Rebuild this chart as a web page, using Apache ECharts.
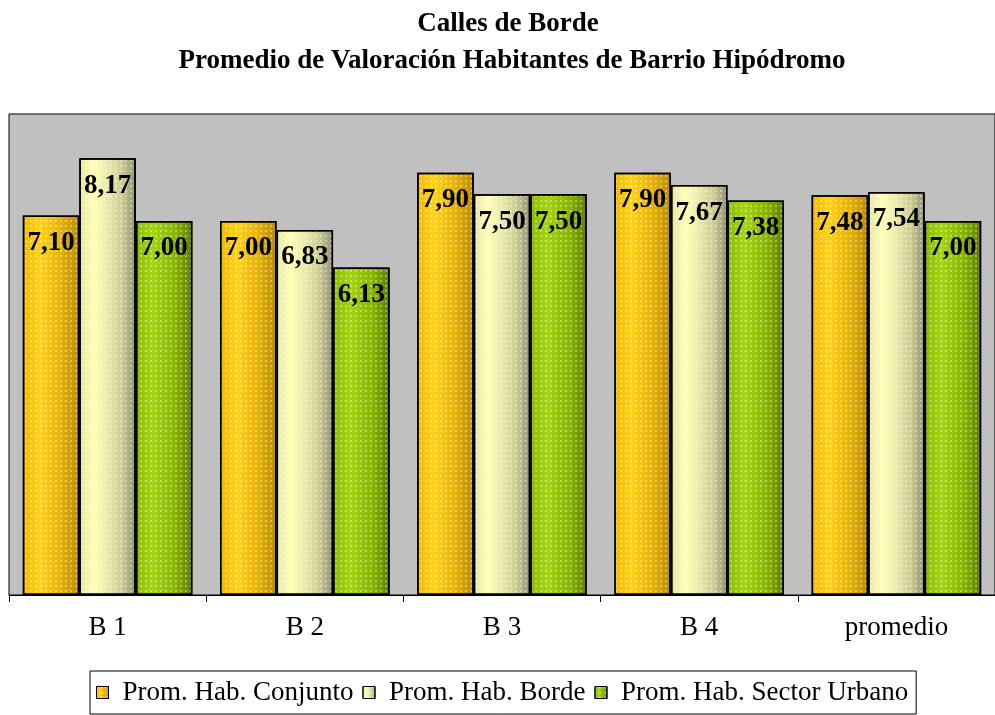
<!DOCTYPE html>
<html>
<head>
<meta charset="utf-8">
<script src="https://cdn.jsdelivr.net/npm/echarts@6/dist/echarts.min.js"></script>
<style>
  html, body { margin: 0; padding: 0; background: #ffffff; }
  #chart { width: 995px; height: 715px; }
</style>
</head>
<body>
<div id="chart"></div>
<script>
// Category labels along the x axis
var categories = ['B 1', 'B 2', 'B 3', 'B 4', 'promedio'];

// Average ratings per group
var conjunto = [7.10, 7.00, 7.90, 7.90, 7.48];
var borde = [8.17, 6.83, 7.50, 7.67, 7.54];
var sectorUrbano = [7.00, 6.13, 7.50, 7.38, 7.00];

var seriesNames = ['Prom. Hab. Conjunto', 'Prom. Hab. Borde', 'Prom. Hab. Sector Urbano'];

var titleLines = ['Calles de Borde', 'Promedio de Valoración Habitantes de Barrio Hipódromo'];

var serif = "'Liberation Serif', 'Times New Roman', serif";

// Cylinder-like horizontal shading for each bar colour
function shade(stops) {
  return new echarts.graphic.LinearGradient(0, 0, 1, 0,
    stops.map(function (s) { return { offset: s[0], color: s[1] }; }));
}

var fills = [
  shade([[0, '#f2b800'], [0.3, '#ffd21a'], [0.65, '#e8b408'], [1, '#b88c00']]),
  shade([[0, '#e4e4ac'], [0.25, '#ffffb4'], [0.5, '#eaeaac'], [0.75, '#cdcd94'], [1, '#909074']]),
  shade([[0, '#8cbc00'], [0.3, '#a4d414'], [0.7, '#88b400'], [1, '#5e7e00']])
];

// Fine dotted texture laid over the bars
var dots = {
  symbol: 'rect',
  symbolSize: 1,
  dashArrayX: [2, 3],
  dashArrayY: [2, 3],
  color: 'rgba(255,255,255,0.36)'
};

function fmt(p) { return p.value.toFixed(2).replace('.', ','); }

function barSeries(name, data, idx) {
  return {
    name: name,
    type: 'bar',
    data: data,
    barGap: '0%',
    barCategoryGap: '14%',
    itemStyle: {
      color: fills[idx],
      borderColor: '#000000',
      borderWidth: 1.5,
      decal: dots
    },
    label: {
      show: true,
      position: 'insideTop',
      distance: 14,
      formatter: fmt,
      fontFamily: serif,
      fontWeight: 'bold',
      fontSize: 27,
      color: '#000000'
    }
  };
}

// Each title line is centred on its own x position
function titleLine(text, centerX, top) {
  return {
    text: text,
    left: centerX,
    top: top,
    textAlign: 'center',
    textStyle: {
      fontFamily: serif,
      fontWeight: 'bold',
      fontSize: 27,
      lineHeight: 30,
      color: '#000000'
    }
  };
}

var chart = echarts.init(document.getElementById('chart'), null, { renderer: 'canvas' });

chart.setOption({
  backgroundColor: '#ffffff',
  animation: false,
  title: [
    titleLine(titleLines[0], 503, 4),
    titleLine(titleLines[1], 507, 41)
  ],
  legend: {
    left: 90,
    top: 671,
    orient: 'horizontal',
    backgroundColor: '#ffffff',
    borderColor: '#000000',
    borderWidth: 1,
    padding: [8, 8, 8, 6],
    itemWidth: 24,
    itemHeight: 12,
    itemGap: 9,
    icon: 'path://M0,0h10v10h-10z',
    itemStyle: { borderColor: '#000000', borderWidth: 1 },
    textStyle: { fontFamily: serif, fontSize: 27, color: '#000000', padding: [0, 0, 0, 3] },
    data: seriesNames
  },
  grid: {
    left: 9,
    top: 114,
    width: 989,
    height: 481,
    show: true,
    backgroundColor: '#c0c0c0',
    borderColor: '#000000',
    borderWidth: 1
  },
  xAxis: {
    type: 'category',
    data: categories,
    axisLine: { show: true, lineStyle: { color: '#000000', width: 1 } },
    axisTick: { show: true, length: 7, lineStyle: { color: '#000000', width: 1 } },
    axisLabel: { margin: 19, fontFamily: serif, fontSize: 27, color: '#000000' }
  },
  yAxis: {
    type: 'value',
    min: 0,
    max: 9,
    show: false,
    splitLine: { show: false }
  },
  series: [
    barSeries(seriesNames[0], conjunto, 0),
    barSeries(seriesNames[1], borde, 1),
    barSeries(seriesNames[2], sectorUrbano, 2)
  ]
});
</script>
</body>
</html>
